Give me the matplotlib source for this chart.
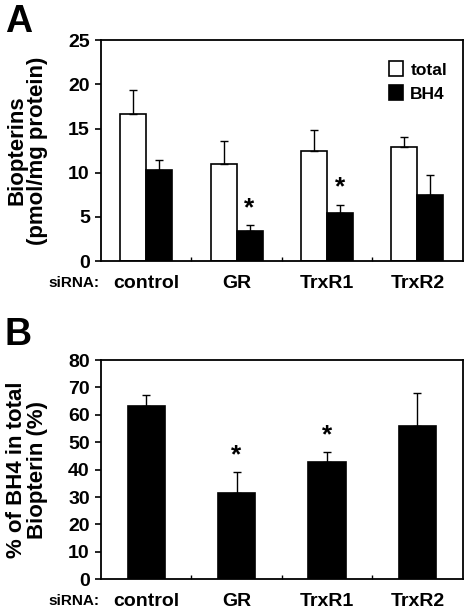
import numpy as np
import matplotlib
matplotlib.use("Agg")
import matplotlib.pyplot as plt

plt.rcParams['font.family'] = ['Liberation Sans', 'DejaVu Sans']
plt.rcParams['font.weight'] = 'bold'

# data
groups = ["control", "GR", "TrxR1", "TrxR2"]
total = [16.7, 11.0, 12.5, 12.9]
total_err = [2.7, 2.6, 2.3, 1.2]
bh4 = [10.3, 3.4, 5.4, 7.5]
bh4_err = [1.1, 0.7, 1.0, 2.2]
pct = [63.3, 31.6, 42.9, 56.0]
pct_err = [3.9, 7.5, 3.5, 12.0]
sig_a = [False, True, True, False]
sig_b = [False, True, True, False]

fig = plt.figure(figsize=(4.65, 6.1), dpi=100)
x = np.arange(len(groups))

def style(ax, ymax, step):
    ax.set_xlim(-0.5, len(groups) - 0.5)
    ax.set_ylim(0, ymax)
    ax.set_yticks(np.arange(0, ymax + 1, step))
    for s in ax.spines.values():
        s.set_linewidth(1.3)
    ax.tick_params(axis='y', direction='out', length=4, width=1.2, labelsize=14, pad=4)
    ax.set_xticks(np.arange(0.5, len(groups) - 1, 1.0))
    ax.set_xticklabels([])
    ax.tick_params(axis='x', direction='in', length=3, width=1.0)
    for i, g in enumerate(groups):
        ax.text(i, -0.1, g, transform=ax.get_xaxis_transform(), ha='center', va='center',
                fontsize=14, fontweight='bold')
    ax.text(-0.8, -0.1, "siRNA:", transform=ax.get_xaxis_transform(), ha='center', va='center',
            fontsize=11, fontweight='bold')
    ax.yaxis.set_label_coords(-0.145, 0.5)

# panel A
axA = fig.add_axes([0.217, 0.572, 0.778, 0.362])
w = 0.287
errkw = dict(lw=1.0, capsize=3, capthick=1.0)
axA.bar(x - w / 2, total, w, color='white', edgecolor='black', linewidth=1.2, label='total',
        yerr=[np.zeros(4), total_err], error_kw=errkw)
axA.bar(x + w / 2, bh4, w, color='black', edgecolor='black', linewidth=1.2, label='BH4',
        yerr=[np.zeros(4), bh4_err], error_kw=errkw)
style(axA, 25, 5)
for i, s in enumerate(sig_a):
    if s:
        axA.text(i + w / 2, bh4[i] + bh4_err[i] + 1.9, "*", ha='center', va='center', fontsize=19, fontweight='bold')
axA.set_ylabel("Biopterins\n(pmol/mg protein)", fontsize=16, fontweight='bold', linespacing=1.0)
axA.legend(loc='upper right', bbox_to_anchor=(1.0, 0.975), frameon=False, fontsize=12.5,
           handlelength=0.8, handleheight=0.9, handletextpad=0.4, labelspacing=0.45)
fig.text(0.01, 0.993, "A", fontsize=27, fontweight='bold', va='top', ha='left')

# panel B
axB = fig.add_axes([0.217, 0.0503, 0.778, 0.3595])
wb = 0.41
axB.bar(x, pct, wb, color='black', edgecolor='black', linewidth=1.2,
        yerr=[np.zeros(4), pct_err], error_kw=errkw)
style(axB, 80, 10)
for i, s in enumerate(sig_b):
    if s:
        axB.text(i, pct[i] + pct_err[i] + 6.2, "*", ha='center', va='center', fontsize=19, fontweight='bold')
axB.set_ylabel("% of BH4 in total\nBiopterin (%)", fontsize=16, fontweight='bold', linespacing=1.0)
fig.text(0.01, 0.48, "B", fontsize=27, fontweight='bold', va='top', ha='left')

fig.savefig("out.png", dpi=100)
